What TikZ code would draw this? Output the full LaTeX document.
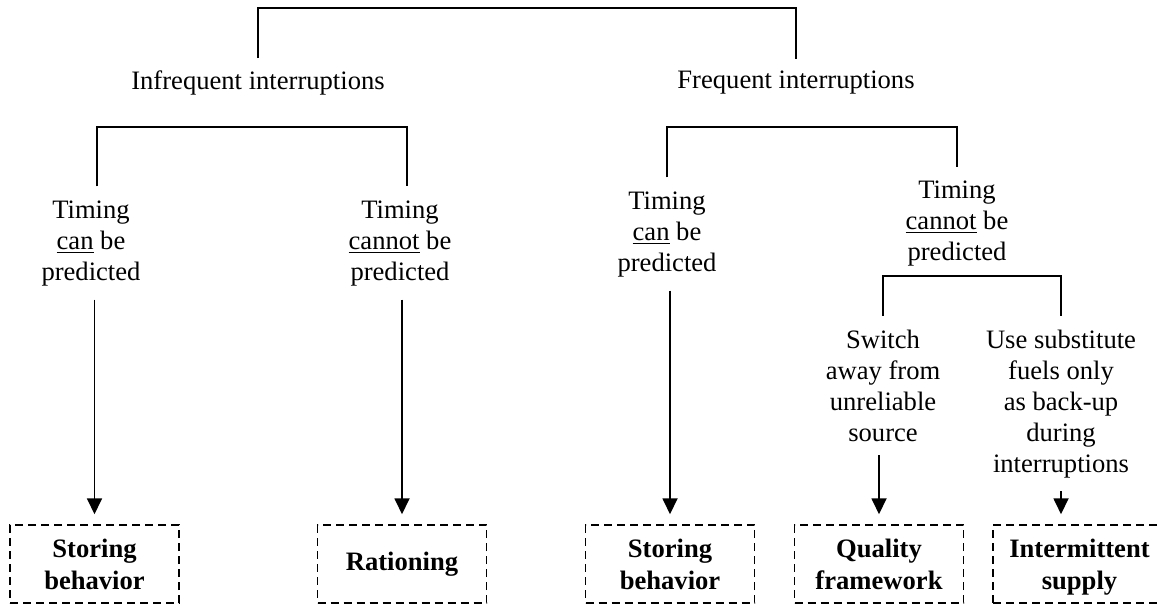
\documentclass[tikz,border=0pt]{standalone}
\usepackage{fontspec}
\setmainfont{Liberation Serif}
\usetikzlibrary{arrows.meta}
\begin{document}
\begin{tikzpicture}[x=0.5pt,y=-0.5pt,line width=0.9pt,
    lbl/.style={align=center,font=\fontsize{13.3}{15.4}\selectfont},
    outcome/.style={draw,dashed,dash pattern=on 4pt off 2.5pt,line width=0.75pt,
        align=center,minimum width=84.5pt,minimum height=39pt,
        font=\fontsize{13.3}{16}\selectfont\bfseries},
    flow/.style={-{Triangle[length=8pt,width=7.5pt]},shorten <=3pt,shorten >=5pt}]
    \useasboundingbox (0,0) rectangle (1159,605);
    % Nodes
    \node[lbl] (infreq) at (258,83) {Infrequent interruptions};
    \node[lbl] (freq) at (796,83) {Frequent interruptions};
    \node[lbl] (lcan) at (91,243.5) {Timing\\\underline{can} be\\predicted};
    \node[lbl] (lcannot) at (400,243.5) {Timing\\\underline{cannot} be\\predicted};
    \node[lbl] (rcan) at (667,234.5) {Timing\\\underline{can} be\\predicted};
    \node[lbl] (rcannot) at (957,223.5) {Timing\\\underline{cannot} be\\predicted};
    \node[lbl] (switch) at (883,386) {Switch\\away from\\unreliable\\source};
    \node[lbl] (subst) at (1061,404) {Use substitute\\fuels only\\as back-up\\during\\interruptions};
    \node[outcome] (store1) at (94.5,564) {Storing\\behavior};
    \node[outcome] (ration) at (402,564) {Rationing};
    \node[outcome] (store2) at (670,564) {Storing\\behavior};
    \node[outcome] (quality) at (879,564) {Quality\\framework};
    \node[outcome,minimum width=86.5pt] (intermit) at (1079.5,564) {Intermittent\\\raisebox{0pt}[\height][0pt]{supply}};
    % Brackets
    \draw ([yshift=2.5pt]infreq.north) -- ++(0,-50) -| ([yshift=2.5pt]freq.north);
    \draw ([shift={(3pt,3.6pt)}]lcan.north) -- ++(0,-59) -| ([shift={(3.5pt,3.6pt)}]lcannot.north);
    \draw ([yshift=3.6pt]rcan.north) -- ++(0,-50) -| ([yshift=3.1pt]rcannot.north);
    \draw ([yshift=3.5pt]switch.north) -- ++(0,-40) -| ([yshift=3.5pt]subst.north);
    % Edges
    \draw[flow] (store1.north |- lcan.south) -- (store1.north);
    \draw[flow] (ration.north |- lcannot.south) -- (ration.north);
    \draw[flow] (store2.north |- rcan.south) -- (store2.north);
    \draw[flow] (quality.north |- switch.south) -- (quality.north);
    \draw[flow] (subst.south) -- (subst.south |- intermit.north);
\end{tikzpicture}
\end{document}
